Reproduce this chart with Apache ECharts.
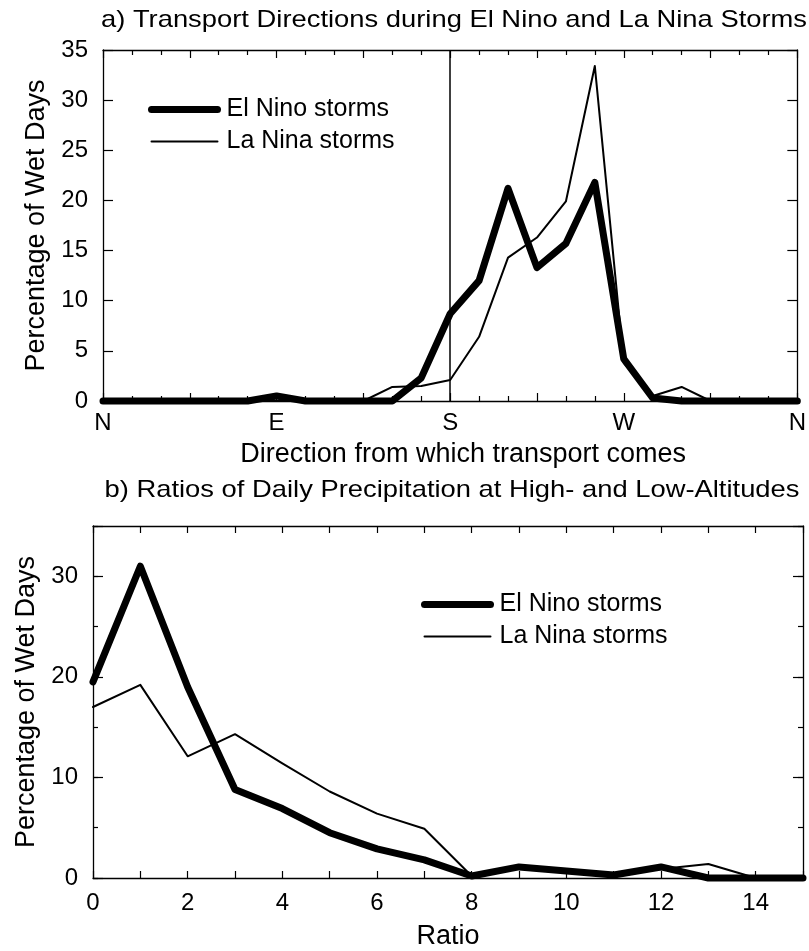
<!DOCTYPE html>
<html>
<head>
<meta charset="utf-8">
<script src="https://cdn.jsdelivr.net/npm/echarts@6/dist/echarts.min.js"></script>
<style>
html, body { margin: 0; padding: 0; background: #fff; }
#chart { width: 809px; height: 951px; }
</style>
</head>
<body>
<div id="chart"></div>
<script>
// panel a: direction the transport comes from, degrees clockwise from north
var directions = [0, 15, 30, 45, 60, 75, 90, 105, 120, 135, 150, 165, 180, 195, 210, 225, 240, 255, 270, 285, 300, 315, 330, 345, 360];
var elNinoDir = [0, 0, 0, 0, 0, 0, 0.5, 0, 0, 0, 0, 2.3, 8.7, 12.0, 21.2, 13.3, 15.7, 21.8, 4.2, 0.3, 0, 0, 0, 0, 0];
var laNinaDir = [0, 0, 0, 0, 0, 0, 0, 0, 0, 0, 1.4, 1.5, 2.1, 6.4, 14.3, 16.3, 19.9, 33.4, 3.8, 0.5, 1.4, 0, 0, 0, 0];
var dirLabelValues = [0, 90, 180, 270, 360];
var dirLabels = ['N', 'E', 'S', 'W', 'N'];

// panel b: high/low altitude precipitation ratio
var ratios = [0, 1, 2, 3, 4, 5, 6, 7, 8, 9, 10, 11, 12, 13, 14, 15];
var elNinoRatio = [19.5, 31.0, 19.0, 8.8, 6.9, 4.5, 2.9, 1.8, 0.2, 1.1, 0.7, 0.3, 1.1, 0, 0, 0];
var laNinaRatio = [17.0, 19.2, 12.1, 14.3, 11.4, 8.6, 6.4, 4.9, 0.2, 1.2, 0.8, 0.4, 0.9, 1.4, 0, 0];

var FONT = 'Liberation Sans, Arial, Helvetica, sans-serif';
var BLACK = '#000';

function zip(xs, ys) {
    var out = [];
    for (var i = 0; i < xs.length; i++) out.push([xs[i], ys[i]]);
    return out;
}

var labelStyle = { color: BLACK, fontSize: 24, fontFamily: FONT };
var nameStyle = { color: BLACK, fontSize: 27, fontFamily: FONT };

// one value axis; frame edges stay where they are (onZero off), ticks inside
function axis(base, pos, showLine, tickLen) {
    return Object.assign({
        type: 'value', position: pos,
        axisLine: { show: showLine, onZero: false, lineStyle: { color: BLACK, width: 1.3 } },
        axisTick: { show: tickLen > 0, inside: true, length: tickLen, lineStyle: { color: BLACK, width: 1.2 } },
        splitLine: { show: false },
        axisLabel: { show: false },
        silent: true
    }, base);
}

var dirBase = { gridIndex: 0, min: 0, max: 360, interval: 45 };
var dirMinor = { show: true, splitNumber: 3, length: 5, lineStyle: { color: BLACK, width: 1.2 } };
var ratioBase = { gridIndex: 1, min: 0, max: 15, interval: 1 };

var dirBottom = axis(dirBase, 'bottom', true, 8);
dirBottom.minorTick = dirMinor;
dirBottom.axisLabel = Object.assign({
    margin: 10, showMaxLabel: true, showMinLabel: true,
    formatter: function (v) {
        var k = dirLabelValues.indexOf(v);
        return k >= 0 ? dirLabels[k] : '';
    }
}, labelStyle);
dirBottom.name = 'Direction from which transport comes';
dirBottom.nameLocation = 'middle';
dirBottom.nameGap = 40;
dirBottom.nameTextStyle = Object.assign({ padding: [0, 0, 0, 26] }, nameStyle);

var dirTop = axis(dirBase, 'top', true, 8);
dirTop.minorTick = dirMinor;

var ratioBottom = axis(ratioBase, 'bottom', true, 7);
ratioBottom.axisLabel = Object.assign({
    margin: 13,
    formatter: function (v) { return v % 2 === 0 && v < 15 ? String(v) : ''; }
}, labelStyle);
ratioBottom.name = 'Ratio';
ratioBottom.nameLocation = 'middle';
ratioBottom.nameGap = 45;
ratioBottom.nameTextStyle = nameStyle;

function pctAxis(grid, step, pos, showLine, tickLen, withLabels) {
    var a = axis({ gridIndex: grid, min: 0, max: 35, interval: step }, pos, showLine, tickLen);
    if (withLabels) {
        a.axisLabel = Object.assign({
            margin: 15,
            formatter: function (v) { return v > 30 && grid === 1 ? '' : String(v); }
        }, labelStyle);
        a.name = 'Percentage of Wet Days';
        a.nameLocation = 'middle';
        a.nameGap = 52;
        a.nameTextStyle = nameStyle;
    }
    return a;
}

var legendItems = [
    { name: 'El Nino storms', lineStyle: { width: 7, cap: 'round' } },
    { name: 'La Nina storms', lineStyle: { width: 2 } }
];

function legendAt(left, top) {
    return {
        data: legendItems, left: left, top: top, orient: 'vertical', padding: 0,
        itemWidth: 66, itemHeight: 24, itemGap: 7, selectedMode: false,
        itemStyle: { opacity: 0 },
        textStyle: { color: BLACK, fontSize: 25, fontFamily: FONT, padding: [0, 0, 0, 4] }
    };
}

function lineSeries(name, x, y, data, width) {
    return {
        name: name, type: 'line', xAxisIndex: x, yAxisIndex: y,
        data: data, symbol: 'none', clip: false, animation: false,
        lineStyle: { color: BLACK, width: width, cap: 'round', join: 'round' },
        itemStyle: { color: BLACK }
    };
}

function titleText(text, x, y) {
    return {
        type: 'text', x: x, y: y, scaleX: 1.14, scaleY: 1,
        style: { text: text, fill: BLACK, font: '24px ' + FONT, textAlign: 'center', textVerticalAlign: 'middle' }
    };
}

var myChart = echarts.init(document.getElementById('chart'));

var laDirSeries = lineSeries('La Nina storms', 0, 0, zip(directions, laNinaDir), 2);
laDirSeries.markLine = {
    silent: true, symbol: 'none', animation: false,
    label: { show: false },
    lineStyle: { color: BLACK, width: 1.5, type: 'solid' },
    data: [{ xAxis: 180 }]
};

var option = {
    backgroundColor: '#fff',
    animation: false,
    grid: [
        { left: 103, top: 50, width: 701, height: 351 },
        { left: 93, top: 526, width: 710, height: 356 }
    ],
    graphic: [
        titleText('a) Transport Directions during El Nino and La Nina Storms', 454, 20),
        titleText('b) Ratios of Daily Precipitation at High- and Low-Altitudes', 452, 490)
    ],
    legend: [legendAt(148, 97), legendAt(421, 592)],
    xAxis: [
        dirBottom,                          // 0
        dirTop,                             // 1
        ratioBottom,                        // 2
        axis(ratioBase, 'top', true, 7)     // 3
    ],
    yAxis: [
        pctAxis(0, 5, 'left', true, 10, true),     // 0
        pctAxis(0, 5, 'right', true, 10, false),   // 1
        pctAxis(1, 10, 'left', true, 10, true),    // 2
        pctAxis(1, 5, 'left', false, 5, false),    // 3
        pctAxis(1, 10, 'right', true, 10, false),  // 4
        pctAxis(1, 5, 'right', false, 5, false)    // 5
    ],
    series: [
        laDirSeries,
        lineSeries('El Nino storms', 0, 0, zip(directions, elNinoDir), 7),
        lineSeries('La Nina storms', 2, 2, zip(ratios, laNinaRatio), 2),
        lineSeries('El Nino storms', 2, 2, zip(ratios, elNinoRatio), 7)
    ]
};

myChart.setOption(option);
window.addEventListener('resize', function () {
    myChart.resize();
});
</script>
</body>
</html>
